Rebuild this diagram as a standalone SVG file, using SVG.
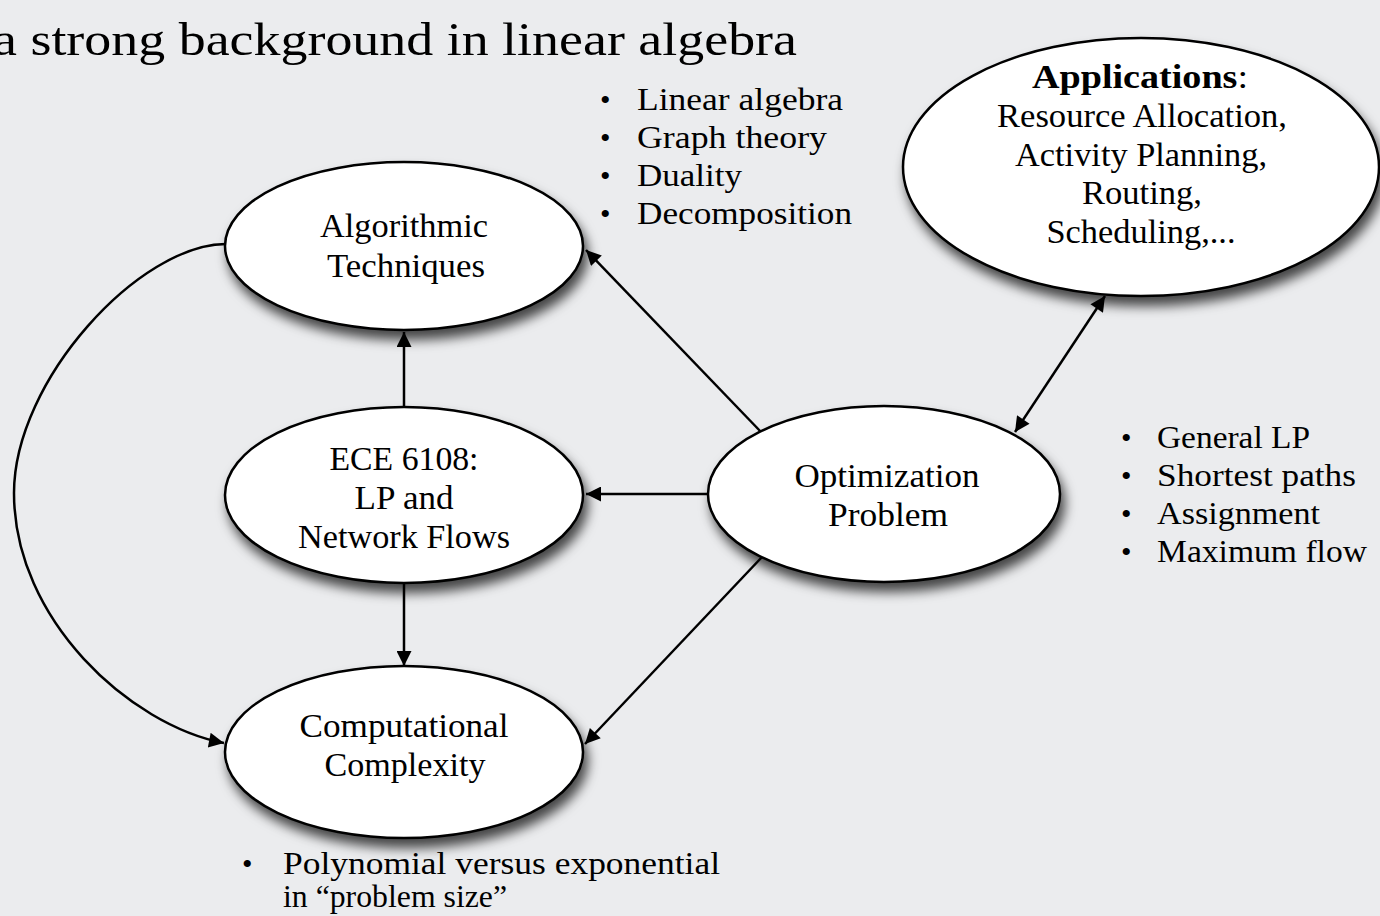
<svg xmlns="http://www.w3.org/2000/svg" width="1380" height="916" viewBox="0 0 1380 916">
<style>
  .t { font-family: "Liberation Serif", "Times New Roman", serif; fill: #000; }
  .node { font-size: 33px; text-anchor: middle; }
  .li { font-size: 32px; }
  .bul { font-size: 30px; }
  .ell { fill: #fff; stroke: #000; stroke-width: 2.5; filter: url(#sh); }
  .conn { stroke: #000; stroke-width: 2.5; fill: none; }
</style>
<defs>
  <filter id="sh" x="-20%" y="-20%" width="150%" height="160%">
    <feDropShadow dx="4" dy="9" stdDeviation="6" flood-color="#000" flood-opacity="0.7"/>
  </filter>
  <marker id="ah" viewBox="0 0 10 10" refX="10" refY="5" markerUnits="userSpaceOnUse" markerWidth="18" markerHeight="15" orient="auto-start-reverse">
    <path d="M0,0 L10,5 L0,10 z" fill="#000"/>
  </marker>
</defs>
<rect x="0" y="0" width="1380" height="916" fill="#ebecee"/>

<text class="t" x="-7" y="55" font-size="46" textLength="804" lengthAdjust="spacingAndGlyphs">a strong background in linear algebra</text>

<g id="connectors">
  <line class="conn" x1="404" y1="408" x2="404" y2="332" marker-end="url(#ah)"/>
  <line class="conn" x1="404" y1="584" x2="404" y2="666" marker-end="url(#ah)"/>
  <line class="conn" x1="708" y1="494" x2="586" y2="494" marker-end="url(#ah)"/>
  <line class="conn" x1="762" y1="433" x2="586" y2="250" marker-end="url(#ah)"/>
  <line class="conn" x1="762" y1="557" x2="585" y2="744" marker-end="url(#ah)"/>
  <line class="conn" x1="1015" y1="432" x2="1105" y2="296" marker-start="url(#ah)" marker-end="url(#ah)"/>
  <path class="conn" d="M226,244 C140,244 14,380 14,493 C14,620 130,725 224,743" marker-end="url(#ah)"/>
</g>

<g id="algorithmic">
  <ellipse class="ell" cx="404" cy="246" rx="179" ry="84"/>
  <text class="t node" x="404" y="237" textLength="168" lengthAdjust="spacingAndGlyphs">Algorithmic</text>
  <text class="t node" x="406" y="277" textLength="158" lengthAdjust="spacingAndGlyphs">Techniques</text>
</g>

<g id="ece6108">
  <ellipse class="ell" cx="404" cy="495" rx="179" ry="88"/>
  <text class="t node" x="404" y="470" textLength="149" lengthAdjust="spacingAndGlyphs">ECE 6108:</text>
  <text class="t node" x="404" y="509" textLength="99" lengthAdjust="spacingAndGlyphs">LP and</text>
  <text class="t node" x="404" y="548" textLength="212" lengthAdjust="spacingAndGlyphs">Network Flows</text>
</g>

<g id="computational">
  <ellipse class="ell" cx="404" cy="752" rx="179" ry="86"/>
  <text class="t node" x="404" y="737" textLength="209" lengthAdjust="spacingAndGlyphs">Computational</text>
  <text class="t node" x="405" y="776" textLength="161" lengthAdjust="spacingAndGlyphs">Complexity</text>
</g>

<g id="optimization">
  <ellipse class="ell" cx="884" cy="494" rx="176" ry="88"/>
  <text class="t node" x="887" y="487" textLength="185" lengthAdjust="spacingAndGlyphs">Optimization</text>
  <text class="t node" x="888" y="526" textLength="120" lengthAdjust="spacingAndGlyphs">Problem</text>
</g>

<g id="applications">
  <ellipse class="ell" cx="1141" cy="167" rx="238" ry="129"/>
  <text class="t node" x="1140" y="88" textLength="216" lengthAdjust="spacingAndGlyphs"><tspan font-weight="bold">Applications</tspan>:</text>
  <text class="t node" x="1142" y="127" textLength="290" lengthAdjust="spacingAndGlyphs">Resource Allocation,</text>
  <text class="t node" x="1141" y="166" textLength="252" lengthAdjust="spacingAndGlyphs">Activity Planning,</text>
  <text class="t node" x="1142" y="204" textLength="120" lengthAdjust="spacingAndGlyphs">Routing,</text>
  <text class="t node" x="1141" y="243" textLength="189" lengthAdjust="spacingAndGlyphs">Scheduling,...</text>
</g>

<g id="list-techniques">
  <text class="t bul" x="600" y="110">•</text>
  <text class="t bul" x="600" y="148">•</text>
  <text class="t bul" x="600" y="186">•</text>
  <text class="t bul" x="600" y="224">•</text>
  <text class="t li" x="637" y="110" textLength="206" lengthAdjust="spacingAndGlyphs">Linear algebra</text>
  <text class="t li" x="637" y="148" textLength="190" lengthAdjust="spacingAndGlyphs">Graph theory</text>
  <text class="t li" x="637" y="186" textLength="105" lengthAdjust="spacingAndGlyphs">Duality</text>
  <text class="t li" x="637" y="224" textLength="215" lengthAdjust="spacingAndGlyphs">Decomposition</text>
</g>

<g id="list-problems">
  <text class="t bul" x="1121" y="448">•</text>
  <text class="t bul" x="1121" y="486">•</text>
  <text class="t bul" x="1121" y="524">•</text>
  <text class="t bul" x="1121" y="562">•</text>
  <text class="t li" x="1157" y="448" textLength="153" lengthAdjust="spacingAndGlyphs">General LP</text>
  <text class="t li" x="1157" y="486" textLength="199" lengthAdjust="spacingAndGlyphs">Shortest paths</text>
  <text class="t li" x="1157" y="524" textLength="163" lengthAdjust="spacingAndGlyphs">Assignment</text>
  <text class="t li" x="1157" y="562" textLength="210" lengthAdjust="spacingAndGlyphs">Maximum flow</text>
</g>

<g id="list-complexity">
  <text class="t bul" x="242" y="874">•</text>
  <text class="t li" x="283" y="874" textLength="437" lengthAdjust="spacingAndGlyphs">Polynomial versus exponential</text>
  <text class="t li" x="283" y="907" textLength="224" lengthAdjust="spacingAndGlyphs">in “problem size”</text>
</g>
</svg>
